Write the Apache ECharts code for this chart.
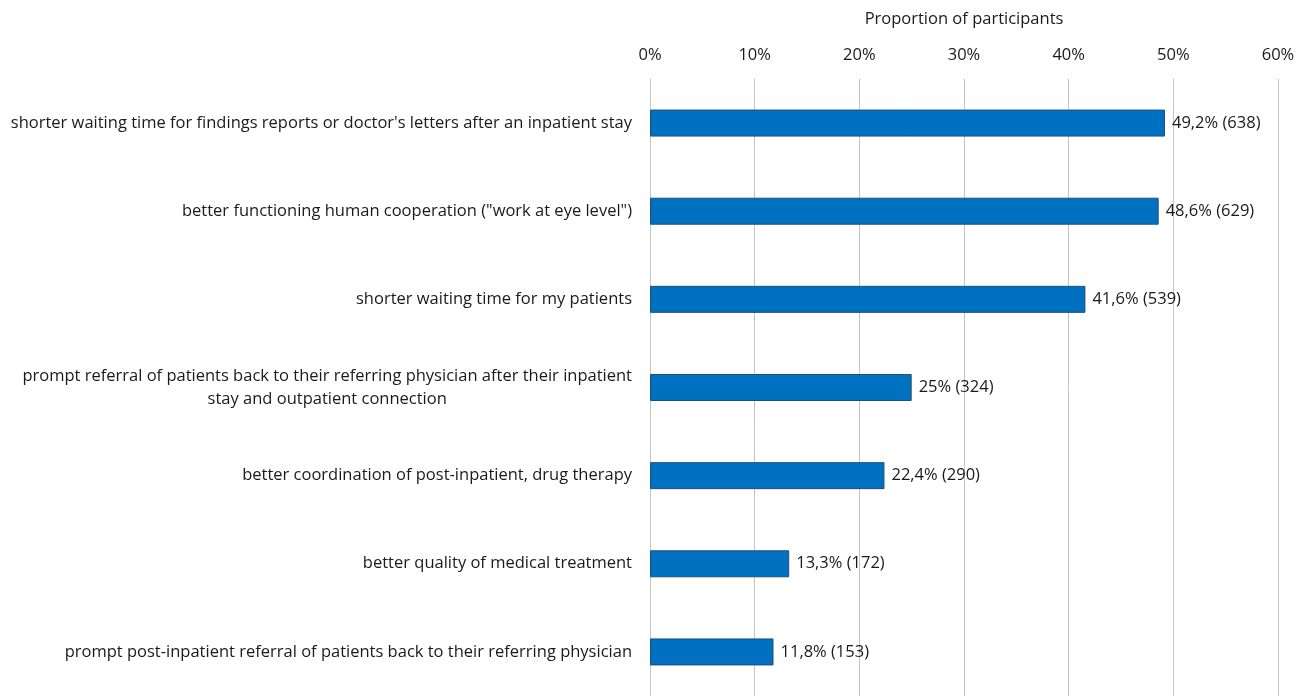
<!DOCTYPE html>
<html>
<head>
<meta charset="utf-8">
<script src="https://cdn.jsdelivr.net/npm/echarts@6/dist/echarts.min.js"></script>
<style>
  html, body { margin: 0; padding: 0; background: #fff; }
  #chart { width: 1308px; height: 696px; }
</style>
</head>
<body>
<div id="chart"></div>
<script>
// Reasons given, top to bottom
const categories = [
  "shorter waiting time for findings reports or doctor's letters after an inpatient stay",
  'better functioning human cooperation ("work at eye level")',
  'shorter waiting time for my patients',
  'prompt referral of patients back to their referring physician after their inpatient\nstay and outpatient connection',
  'better coordination of post-inpatient, drug therapy',
  'better quality of medical treatment',
  'prompt post-inpatient referral of patients back to their referring physician'
];
// Share of participants (%)
const shares = [49.2, 48.6, 41.6, 25, 22.4, 13.3, 11.8];
// Number of participants
const counts = [638, 629, 539, 324, 290, 172, 153];
const axisTicks = [0, 10, 20, 30, 40, 50, 60];

const FONT = 'Open Sans';
const SIZE = 16.5;
const TEXT = '#1a1a1a';

const chart = echarts.init(document.getElementById('chart'));
chart.setOption({
  animation: false,
  backgroundColor: '#ffffff',
  textStyle: { fontFamily: FONT, color: TEXT },
  grid: { left: 650, right: 30, top: 79, bottom: -3, containLabel: false },
  xAxis: {
    type: 'value',
    position: 'top',
    min: axisTicks[0],
    max: axisTicks[axisTicks.length - 1],
    interval: axisTicks[1] - axisTicks[0],
    name: 'Proportion of participants',
    nameLocation: 'middle',
    nameGap: 51,
    nameTextStyle: { fontFamily: FONT, fontSize: SIZE, color: TEXT },
    axisLine: { show: false },
    axisTick: { show: false },
    axisLabel: { formatter: '{value}%', margin: 15, fontFamily: FONT, fontSize: SIZE, color: TEXT },
    splitLine: { show: true, lineStyle: { color: '#c4c4c4', width: 1 } }
  },
  yAxis: {
    type: 'category',
    inverse: true,
    data: categories,
    axisLine: { show: false },
    axisTick: { show: false },
    axisLabel: {
      margin: 18,
      fontFamily: FONT,
      fontSize: SIZE,
      color: TEXT,
      formatter: function (v) {
        return v.split('\n').map(function (s) { return '{c|' + s + '}'; }).join('\n');
      },
      rich: {
        c: { align: 'center', fontFamily: FONT, fontSize: SIZE, color: TEXT, lineHeight: 23 }
      }
    },
    splitLine: { show: false }
  },
  series: [{
    type: 'bar',
    data: shares,
    barWidth: 27,
    itemStyle: { color: '#0070c0', borderColor: '#1f4e79', borderWidth: 1 },
    label: {
      show: true,
      position: 'right',
      distance: 7,
      fontFamily: FONT,
      fontSize: SIZE,
      color: TEXT,
      formatter: function (p) {
        return String(p.value).replace('.', ',') + '% (' + counts[p.dataIndex] + ')';
      }
    }
  }]
});
</script>
</body>
</html>
